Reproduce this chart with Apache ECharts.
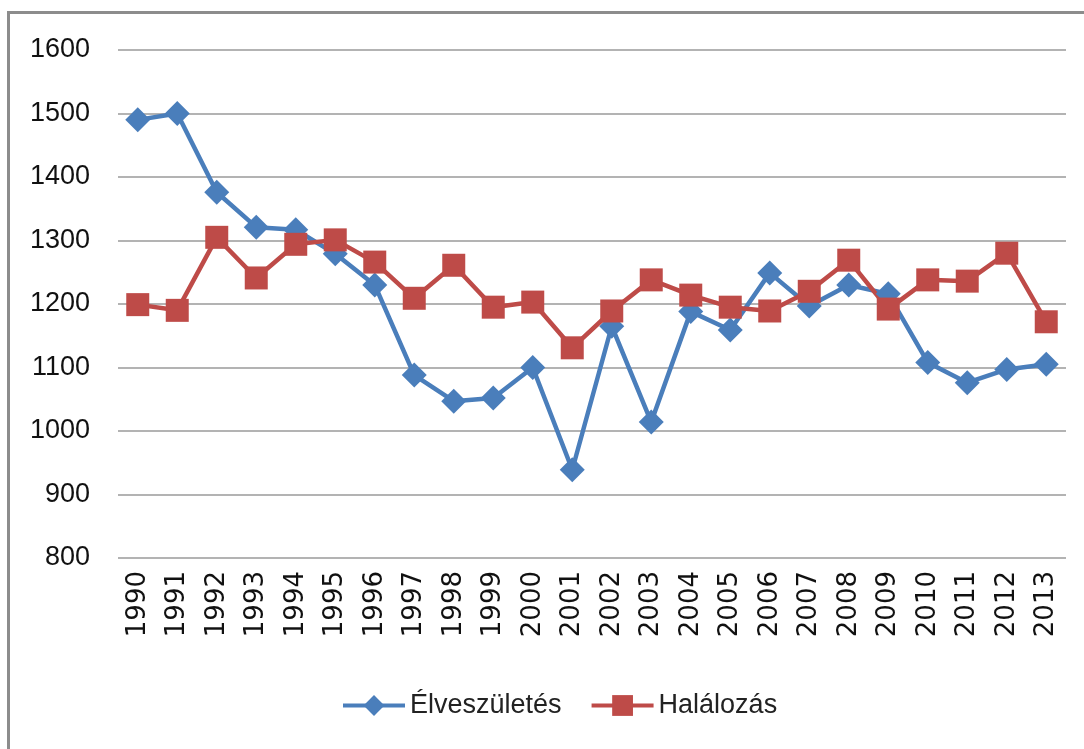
<!DOCTYPE html>
<html lang="hu">
<head>
<meta charset="utf-8">
<title>Élveszületés és halálozás</title>
<script src="https://cdn.jsdelivr.net/npm/echarts@6/dist/echarts.min.js"></script>
<style>
  html, body { margin: 0; padding: 0; background: #fff; }
  #chart { width: 1084px; height: 749px; }
</style>
</head>
<body>
<div id="chart"></div>
<script>
// evek
var years = ['1990','1991','1992','1993','1994','1995','1996','1997','1998','1999','2000','2001',
             '2002','2003','2004','2005','2006','2007','2008','2009','2010','2011','2012','2013'];
// elveszuletes
var births = [1490, 1500, 1376, 1321, 1317, 1279, 1230, 1088, 1047, 1052, 1100, 939,
              1165, 1014, 1188, 1159, 1249, 1197, 1230, 1216, 1108, 1076, 1097, 1105];
// halalozas
var deaths = [1199, 1190, 1305, 1241, 1294, 1301, 1266, 1209, 1261, 1195, 1203, 1131,
              1189, 1238, 1214, 1195, 1189, 1220, 1269, 1192, 1238, 1236, 1280, 1172];

var myChart = echarts.init(document.getElementById('chart'));
var font = 'Liberation Sans';

var option = {
  backgroundColor: '#fff',
  animation: false,
  graphic: [{
    type: 'rect',
    shape: { x: 8.5, y: 12.5, width: 1200, height: 900 },
    style: { fill: 'none', stroke: '#8c8c8c', lineWidth: 3 }
  }],
  grid: { left: 118, right: 18, top: 50, bottom: 191 },
  legend: {
    top: 687,
    left: 336,
    itemWidth: 62,
    itemHeight: 26,
    itemGap: 28,
    lineStyle: { width: 4 },
    textStyle: { fontFamily: font, fontSize: 27, color: '#222' },
    data: ['Élveszületés', 'Halálozás']
  },
  xAxis: {
    type: 'category',
    data: years,
    boundaryGap: true,
    axisLine: { show: false },
    axisTick: { show: false },
    axisLabel: {
      interval: 0, rotate: 90, fontFamily: 'DejaVu Sans', fontSize: 26,
      color: '#111', margin: 13
    }
  },
  yAxis: {
    type: 'value',
    min: 800,
    max: 1600,
    interval: 100,
    axisLine: { show: false },
    axisTick: { show: false },
    axisLabel: {
      fontFamily: font, fontSize: 27, color: '#111', margin: 28,
      formatter: function (v) { return String(v); }
    },
    splitLine: { lineStyle: { color: '#9a9a9a', width: 1.5 } }
  },
  series: [
    {
      name: 'Élveszületés',
      type: 'line',
      data: births,
      symbol: 'diamond',
      symbolSize: 25,
      color: '#4a7ebb',
      lineStyle: { width: 4.5, color: '#4a7ebb' },
      itemStyle: { color: '#4a7ebb' }
    },
    {
      name: 'Halálozás',
      type: 'line',
      data: deaths,
      symbol: 'rect',
      symbolSize: 23,
      color: '#be4b48',
      lineStyle: { width: 4.5, color: '#be4b48' },
      itemStyle: { color: '#be4b48' }
    }
  ]
};
myChart.setOption(option);
</script>
</body>
</html>
